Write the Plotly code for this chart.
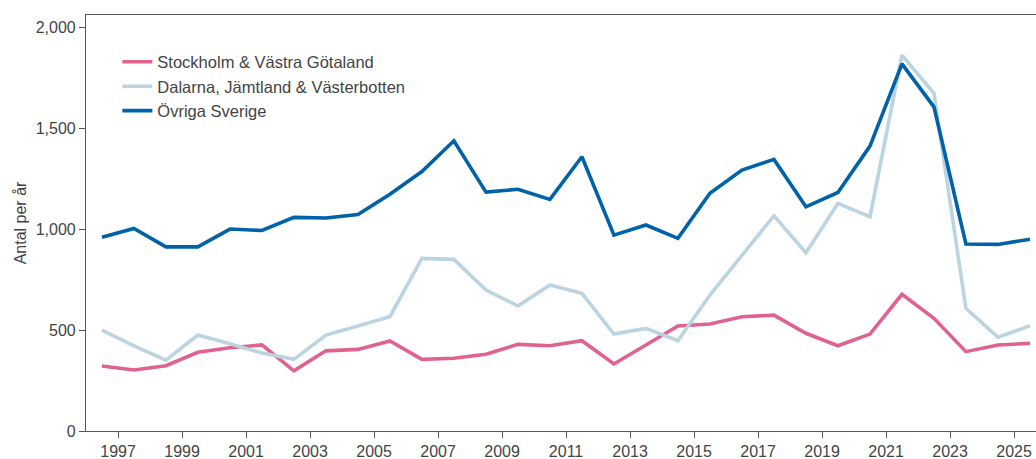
import plotly.graph_objects as go

years = list(range(1996, 2026))

stockholm_vg = [322, 302, 323, 390, 412, 426, 298, 397, 404, 446,
                355, 360, 380, 429, 422, 447, 332, 426, 520, 530,
                566, 574, 484, 422, 480, 677, 558, 393, 426, 434]

dalarna_jl_vb = [500, 422, 351, 475, 432, 386, 355, 475, 520, 566,
                 855, 850, 698, 619, 723, 682, 480, 508, 447, 673,
                 870, 1066, 883, 1127, 1061, 1861, 1672, 607, 464, 521]

ovriga = [960, 1003, 912, 912, 1000, 993, 1058, 1055, 1072, 1172,
          1285, 1437, 1183, 1197, 1147, 1358, 970, 1020, 954, 1177,
          1292, 1345, 1110, 1181, 1411, 1818, 1605, 926, 924, 950]

series_names = ["Stockholm & Västra Götaland",
                "Dalarna, Jämtland & Västerbotten",
                "Övriga Sverige"]
series_colors = ["#E0628F", "#BAD4E1", "#0062A8"]

# yearly values plotted at mid-year
x_dates = [f"{y}-07-01" for y in years]

fig = go.Figure()
for name, vals, col in zip(series_names, [stockholm_vg, dalarna_jl_vb, ovriga], series_colors):
    fig.add_trace(go.Scatter(x=x_dates, y=vals, mode="lines", name=name,
                             line=dict(color=col, width=3.6), hoverinfo="skip"))

axis_col = "#555555"
text_col = "#444444"
fig.update_layout(
    width=1036, height=459,
    margin=dict(l=86, r=0, t=15, b=28),
    paper_bgcolor="white", plot_bgcolor="white",
    font=dict(family="Liberation Sans, Arial, sans-serif", size=16, color=text_col),
    showlegend=True,
    legend=dict(x=0.033, y=0.929, xanchor="left", yanchor="top",
                bgcolor="rgba(0,0,0,0)", font=dict(size=16.5, color=text_col),
                tracegroupgap=0),
    xaxis=dict(type="date", range=["1996-01-01", "2025-09-08"],
               tick0="1997-01-01", dtick="M24", tickformat="%Y",
               showgrid=False, zeroline=False,
               showline=True, linecolor=axis_col, linewidth=1.2, mirror=True,
               ticks="outside", ticklen=6, tickcolor=axis_col, tickwidth=1,
               tickfont=dict(size=16, color=text_col)),
    yaxis=dict(range=[0, 2060], tickvals=[0, 500, 1000, 1500, 2000],
               ticktext=["0", "500", "1,000", "1,500", "2,000"],
               showgrid=False, zeroline=False,
               showline=True, linecolor=axis_col, linewidth=1.2,
               ticks="outside", ticklen=6, tickcolor=axis_col, tickwidth=1,
               tickfont=dict(size=16, color=text_col),
               title=dict(text="Antal per år", font=dict(size=16, color=text_col), standoff=5)),
)

fig.write_html("out.html", config={"displayModeBar": False},
               post_script="document.body.style.margin='0';document.body.style.overflow='hidden';")
